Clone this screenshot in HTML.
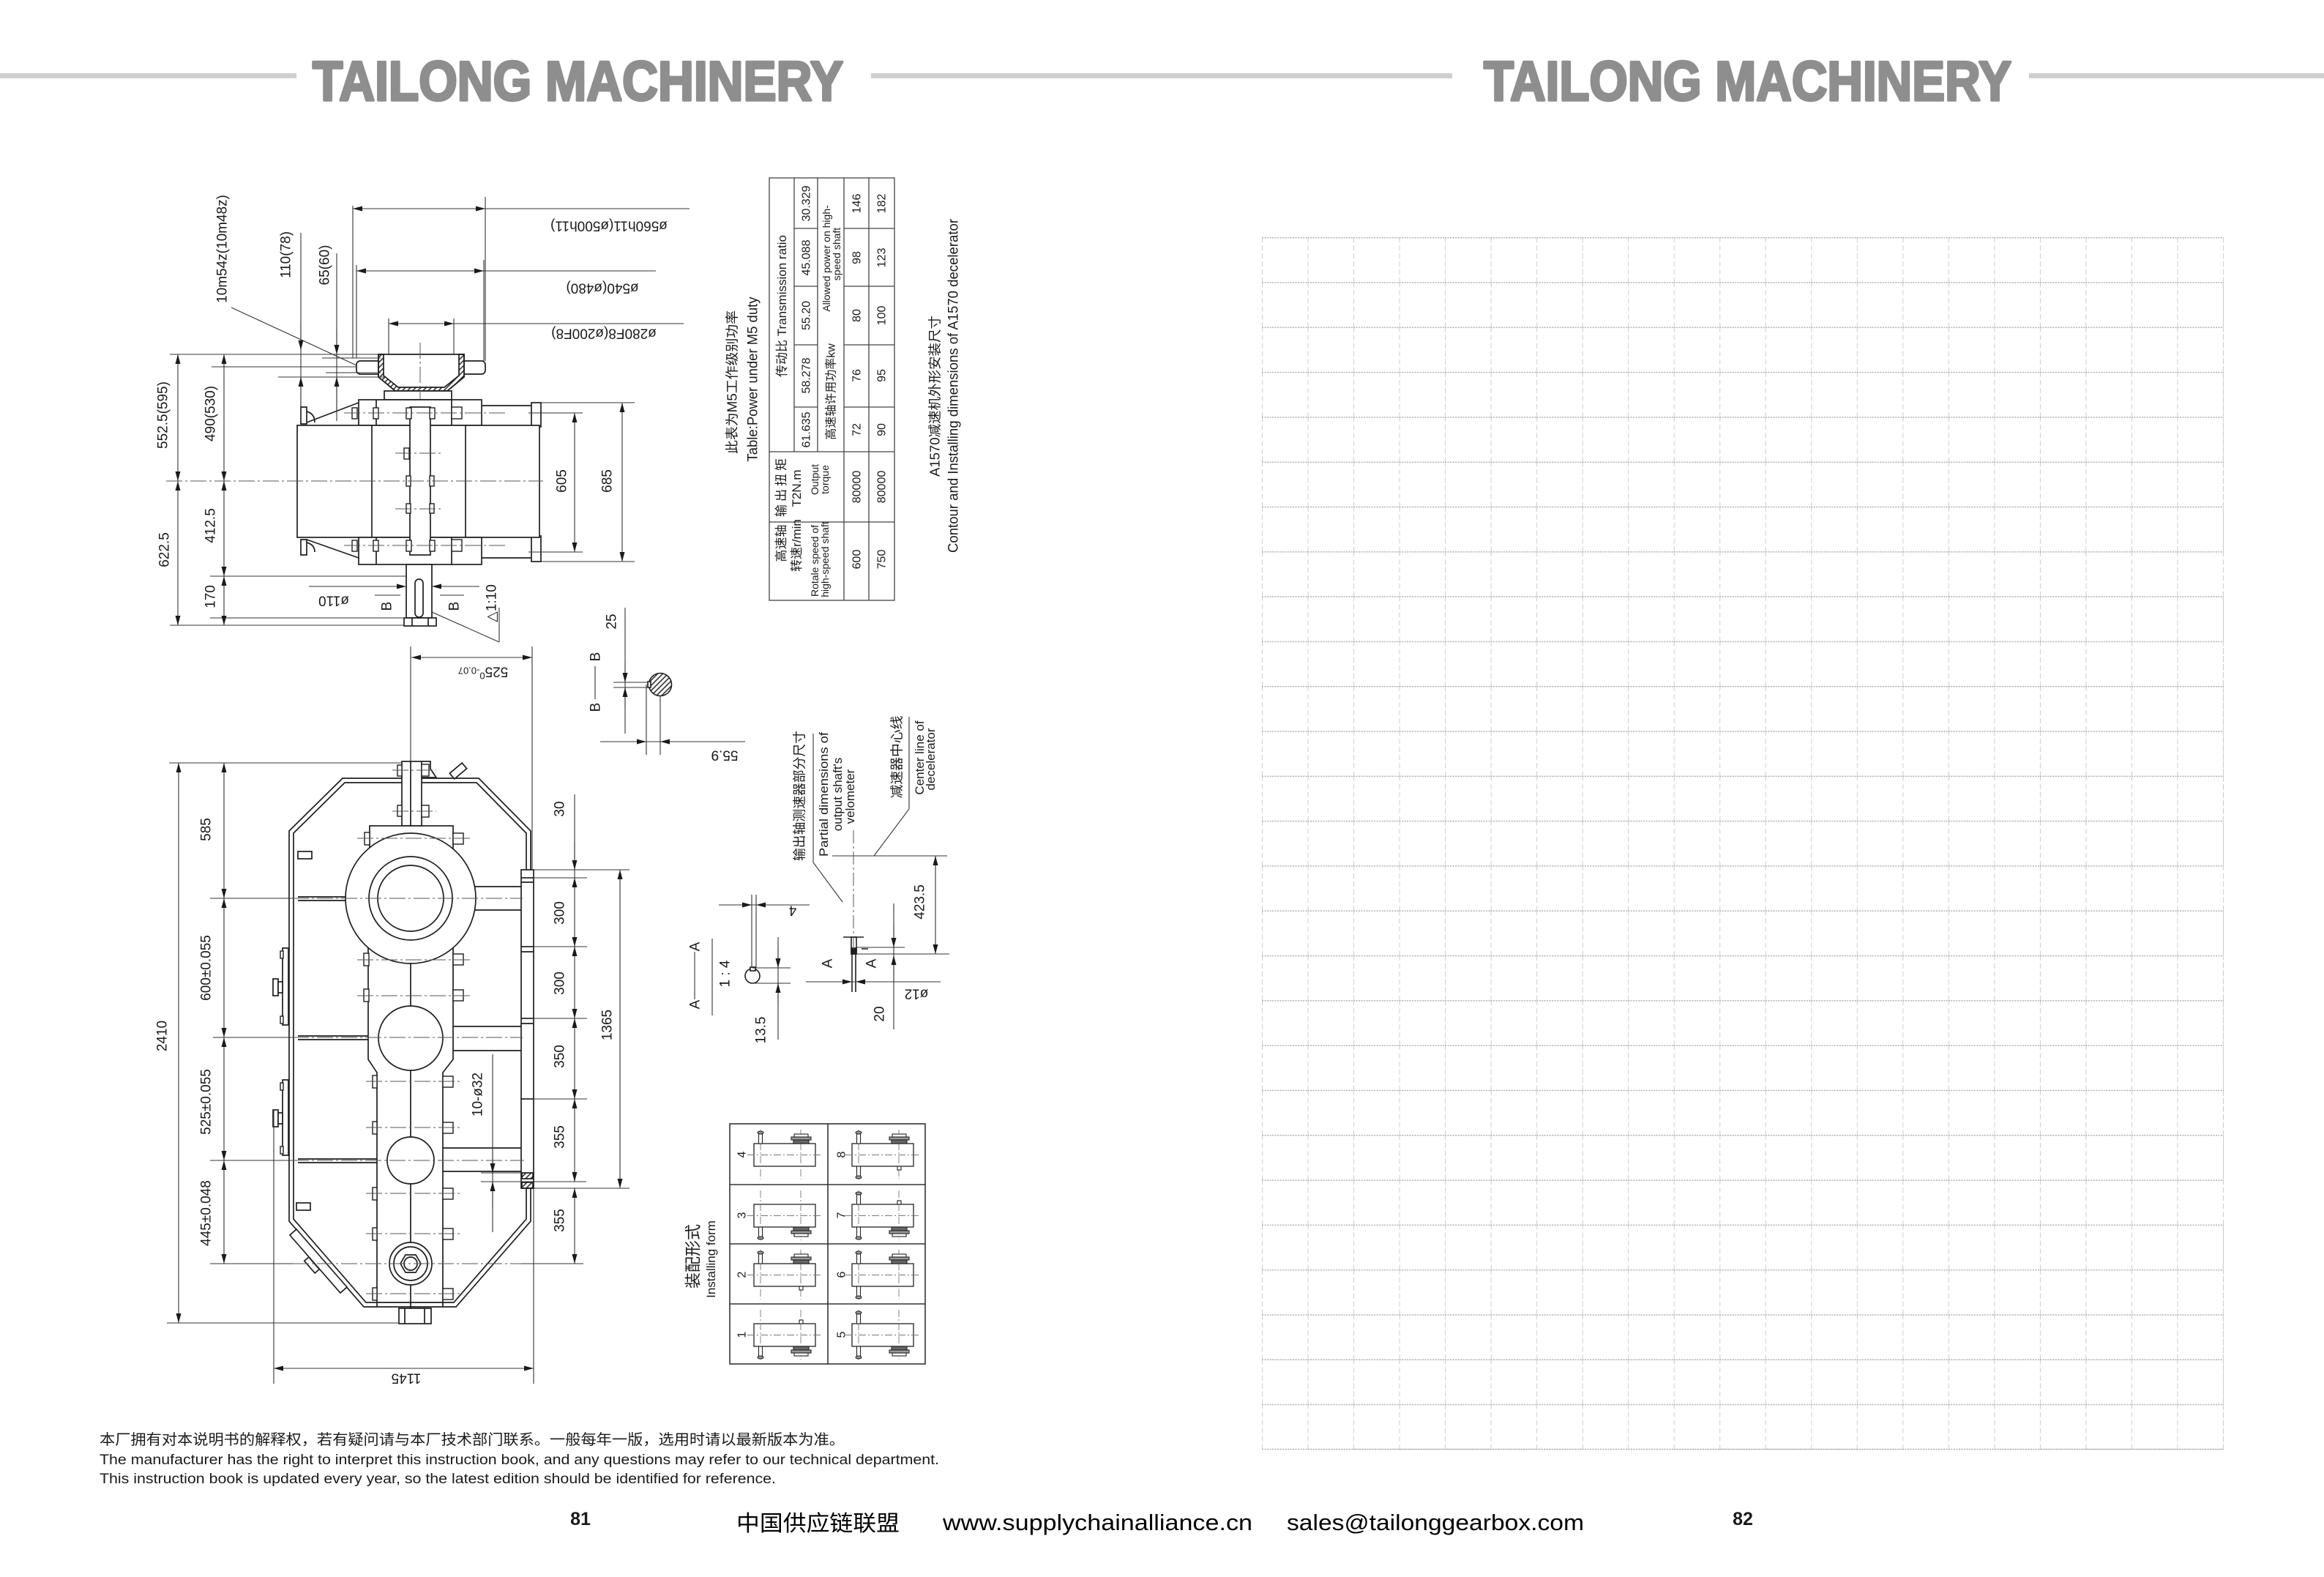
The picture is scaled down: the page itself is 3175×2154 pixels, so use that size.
<!DOCTYPE html>
<html><head><meta charset="utf-8">
<style>
html,body{margin:0;padding:0;background:#fff;width:3175px;height:2154px;overflow:hidden;}
svg{display:block;}
text{font-family:"Liberation Sans","DejaVu Sans","Noto Sans CJK SC",sans-serif;fill:#1a1a1a;}
</style></head><body>
<svg width="3175" height="2154" viewBox="0 0 3175 2154" xmlns="http://www.w3.org/2000/svg">
<defs>
<marker id="a" viewBox="0 0 13 7" refX="13" refY="3.5" markerWidth="13" markerHeight="7" markerUnits="userSpaceOnUse" orient="auto-start-reverse"><path d="M0,0 L13,3.5 L0,7 z" fill="#1a1a1a"/></marker>
<pattern id="h" width="5" height="5" patternUnits="userSpaceOnUse" patternTransform="rotate(45)"><line x1="1" y1="0" x2="1" y2="5" stroke="#222" stroke-width="1.5"/></pattern>
<pattern id="g" x="1724" y="324" width="62.524" height="61.3" patternUnits="userSpaceOnUse"><line x1="0.5" y1="0" x2="0.5" y2="61.3" stroke="#cdcdcd" stroke-width="1" stroke-dasharray="7 4"/><line x1="0" y1="0.75" x2="62.524" y2="0.75" stroke="#b0b0b0" stroke-width="1.5" stroke-dasharray="2 1.5"/></pattern>
<g id="fb"><rect x="33" y="27" width="84" height="31" fill="#fff" stroke="#222" stroke-width="1.3"/><path d="M24,42.5 H126 M42,8 V76 M97,8 V76" stroke="#777" stroke-width="0.9" stroke-dasharray="10 3 2 3" fill="none"/></g>
<g id="su" stroke="#222" stroke-width="1.1"><rect x="39.5" y="12" width="5" height="15" fill="#fff"/><ellipse cx="42" cy="12" rx="4" ry="2" fill="#999"/></g>
<g id="sd" stroke="#222" stroke-width="1.1"><rect x="39.5" y="58" width="5" height="15" fill="#fff"/><ellipse cx="42" cy="73" rx="4" ry="2" fill="#999"/></g>
<g id="fu" stroke="#222" stroke-width="1.1"><rect x="88" y="14" width="19" height="4" fill="#fff"/><rect x="84" y="18" width="27" height="4" fill="#999"/><rect x="87" y="22" width="21" height="5" fill="#666"/></g>
<g id="fd" stroke="#222" stroke-width="1.1"><rect x="87" y="58" width="21" height="5" fill="#666"/><rect x="84" y="63" width="27" height="4" fill="#999"/><rect x="88" y="67" width="19" height="4" fill="#fff"/></g>
<g id="tu"><rect x="95" y="22" width="5" height="5" fill="#fff" stroke="#222" stroke-width="1.1"/></g>
<g id="td"><rect x="95" y="58" width="5" height="5" fill="#fff" stroke="#222" stroke-width="1.1"/></g>
</defs>

<!-- HEADER -->
<rect x="0" y="100" width="405" height="7" fill="#cfcfcf"/>
<rect x="1190" y="100" width="794" height="7" fill="#cfcfcf"/>
<rect x="2772" y="100" width="403" height="7" fill="#cfcfcf"/>
<text x="427" y="137" font-size="76" font-weight="bold" textLength="725" lengthAdjust="spacingAndGlyphs" style="fill:#8e8e8e;stroke:#8e8e8e;stroke-width:3.5;stroke-linejoin:round">TAILONG MACHINERY</text>
<text x="2027" y="137" font-size="76" font-weight="bold" textLength="721" lengthAdjust="spacingAndGlyphs" style="fill:#8e8e8e;stroke:#8e8e8e;stroke-width:3.5;stroke-linejoin:round">TAILONG MACHINERY</text>

<!-- RIGHT PAGE GRID -->
<rect x="1724" y="324" width="1314" height="1656" fill="url(#g)"/>
<line x1="3037.5" y1="324" x2="3037.5" y2="1980" stroke="#cdcdcd" stroke-dasharray="7 4"/>
<line x1="1724" y1="1979.5" x2="3038" y2="1979.5" stroke="#b0b0b0" stroke-width="1.5" stroke-dasharray="2 1.5"/>

<!-- ================= TOP VIEW ================= -->
<g fill="none" stroke="#1e1e1e" stroke-width="1.7">
<rect x="487" y="493" width="176" height="18" rx="5" fill="#fff"/>
<path d="M517,484 L634,484 L634,515 L611,534 L540,534 L517,515 Z" fill="#fff"/>
<path d="M517,484 L524,484 L524,513 L544,529 L607,529 L627,513 L627,484 L634,484 L634,515 L611,534 L540,534 L517,515 Z" fill="url(#h)"/>
<rect x="525" y="534" width="92" height="12" fill="#fff"/>
<rect x="490" y="546" width="168" height="35" fill="#fff"/>
<line x1="514" y1="546" x2="514" y2="581"/><line x1="617" y1="546" x2="617" y2="581"/>
<path d="M658,554 H726 M658,762 H726"/>
<rect x="726" y="550" width="13" height="33" fill="#fff"/>
<rect x="726" y="732" width="13" height="35" fill="#fff"/>
<rect x="406" y="581" width="331" height="153" fill="#fff"/>
<line x1="508" y1="581" x2="508" y2="734"/><line x1="636" y1="581" x2="636" y2="734"/>
<rect x="490" y="734" width="168" height="37" fill="#fff"/>
<line x1="514" y1="734" x2="514" y2="771"/><line x1="617" y1="734" x2="617" y2="771"/>
<rect x="560" y="556" width="28" height="202" fill="#fff"/>
<path d="M411,556 H419 V579 H411 Z M419,562 Q430,565 430,577"/>
<path d="M419,577 L490,550"/>
<path d="M411,737 H419 V758 H411 Z M419,741 Q430,744 430,754"/>
<path d="M419,737 L490,762"/>
<rect x="555" y="771" width="35" height="73" fill="#fff"/>
<rect x="567" y="791" width="11" height="52" rx="5.5"/>
<rect x="552" y="844" width="44" height="11" fill="#fff"/>
<line x1="563" y1="844" x2="563" y2="855"/><line x1="585" y1="844" x2="585" y2="855"/>
</g>
<g fill="#fff" stroke="#1e1e1e" stroke-width="1.4">
<rect x="481" y="557" width="7" height="15"/><rect x="510" y="557" width="7" height="15"/><rect x="555" y="557" width="7" height="15"/><rect x="587" y="557" width="7" height="15"/><rect x="617" y="556" width="14" height="16"/>
<rect x="481" y="738" width="7" height="15"/><rect x="510" y="738" width="7" height="15"/><rect x="555" y="738" width="7" height="15"/><rect x="587" y="738" width="7" height="15"/><rect x="617" y="737" width="14" height="16"/>
<rect x="552" y="612" width="7" height="15"/>
<rect x="555" y="650" width="6" height="14"/><rect x="587" y="650" width="6" height="14"/>
<rect x="555" y="688" width="6" height="13"/><rect x="587" y="688" width="6" height="13"/>
</g>
<g fill="none" stroke="#555" stroke-width="1" stroke-dasharray="22 4 3 4">
<line x1="227" y1="657" x2="742" y2="657"/>
<line x1="574" y1="468" x2="574" y2="545"/>
<line x1="470" y1="564" x2="690" y2="564"/>
<line x1="470" y1="745" x2="690" y2="745"/>
<line x1="540" y1="619" x2="605" y2="619"/>
<line x1="540" y1="695" x2="605" y2="695"/>
</g>
<!-- top view dims -->
<g fill="none" stroke="#333" stroke-width="1.1">
<path d="M232,484 H517 M287,787 H555 M287,844 H555 M232,854 H552 M289,501 H487"/>
<path d="M440,489 H520 M445,509 H520 M380,515 H525"/>
<path d="M316,420 L487,499"/>
<path d="M482,281 V489 M663,269 V493 M487,362 V489 M661,355 V493 M531,435 V484 M620,435 V484"/>
<path d="M663,285 H942 M661,370 H896 M620,442 H934"/>
<path d="M722,564 H796 M722,754 H796 M739,550 H867 M739,767 H867"/>
<path d="M512,813 H547 M601,813 H634"/>
<path d="M590,836 L682,877 M682,830 V877"/>
<line x1="411" y1="318" x2="411" y2="575"/>
<line x1="460" y1="346" x2="460" y2="575"/>
<g marker-start="url(#a)" marker-end="url(#a)">
<line x1="243" y1="484" x2="243" y2="657"/>
<line x1="243" y1="657" x2="243" y2="854"/>
<line x1="306" y1="484" x2="306" y2="657"/>
<line x1="306" y1="657" x2="306" y2="787"/>
<line x1="306" y1="787" x2="306" y2="854"/>
<line x1="482" y1="285" x2="663" y2="285"/>
<line x1="487" y1="370" x2="661" y2="370"/>
<line x1="531" y1="442" x2="620" y2="442"/>
<line x1="785" y1="564" x2="785" y2="754"/>
<line x1="850" y1="550" x2="850" y2="767"/>
</g>
<g marker-end="url(#a)">
<line x1="411" y1="440" x2="411" y2="478"/>
<line x1="411" y1="560" x2="411" y2="515"/>
<line x1="460" y1="450" x2="460" y2="484"/>
<line x1="460" y1="560" x2="460" y2="515"/>
<line x1="422" y1="801" x2="555" y2="801"/>
<line x1="655" y1="801" x2="590" y2="801"/>
</g>
</g>
<g font-size="19" text-anchor="middle">
<text transform="translate(222,567) rotate(-90)" dy="6.7">552.5(595)</text>
<text transform="translate(224,751) rotate(-90)" dy="6.7">622.5</text>
<text transform="translate(287,565) rotate(-90)" dy="6.7">490(530)</text>
<text transform="translate(287,718) rotate(-90)" dy="6.7">412.5</text>
<text transform="translate(287,815) rotate(-90)" dy="6.7">170</text>
<text transform="translate(303,340) rotate(-90)" dy="6.7">10m54z(10m48z)</text>
<text transform="translate(390,348) rotate(-90)" dy="6.7">110(78)</text>
<text transform="translate(443,362) rotate(-90)" dy="6.7">65(60)</text>
<text transform="translate(832,309) rotate(180)" dy="6.7">ø560h11(ø500h11)</text>
<text transform="translate(823,394) rotate(180)" dy="6.7">ø540(ø480)</text>
<text transform="translate(825,456) rotate(180)" dy="6.7">ø280F8(ø200F8)</text>
<text transform="translate(767,657) rotate(-90)" dy="6.7">605</text>
<text transform="translate(829,657) rotate(-90)" dy="6.7">685</text>
<text transform="translate(456,821) rotate(180)" dy="6.7">ø110</text>
<text transform="translate(528,828) rotate(-90)" dy="6.7">B</text>
<text transform="translate(620,828) rotate(-90)" dy="6.7">B</text>
<text transform="translate(671,824) rotate(-90)" dy="6.7">△1:10</text>
<text transform="translate(835,849) rotate(-90)" dy="6.7">25</text>
</g>

<!-- ================= TABLE ================= -->
<g fill="none" stroke="#444" stroke-width="1.3">
<rect x="1051" y="243" width="171" height="577"/>
<path d="M1153,243 V820 M1187,243 V820 M1085,243 V617 M1117,243 V617"/>
<path d="M1051,617 H1222 M1051,713 H1222"/>
<path d="M1085,312 H1117 M1085,391 H1117 M1085,471 H1117 M1085,556 H1117"/>
<path d="M1153,312 H1222 M1153,391 H1222 M1153,471 H1222 M1153,556 H1222"/>
</g>
<g font-size="16" text-anchor="middle">
<text transform="translate(1068,418) rotate(-90)" dy="6" font-size="17">传动比 Transmission ratio</text>
<text transform="translate(1101,278) rotate(-90)" dy="5.6">30.329</text>
<text transform="translate(1101,352) rotate(-90)" dy="5.6">45.088</text>
<text transform="translate(1101,431) rotate(-90)" dy="5.6">55.20</text>
<text transform="translate(1101,513) rotate(-90)" dy="5.6">58.278</text>
<text transform="translate(1101,587) rotate(-90)" dy="5.6">61.635</text>
<text transform="translate(1129,353) rotate(-90)" dy="5" font-size="14">Allowed power on high-</text>
<text transform="translate(1143,347) rotate(-90)" dy="5" font-size="14">speed shaft</text>
<text transform="translate(1135,535) rotate(-90)" dy="5.6">高速轴许用功率kw</text>
<text transform="translate(1170,278) rotate(-90)" dy="5.6">146</text>
<text transform="translate(1170,352) rotate(-90)" dy="5.6">98</text>
<text transform="translate(1170,431) rotate(-90)" dy="5.6">80</text>
<text transform="translate(1170,513) rotate(-90)" dy="5.6">76</text>
<text transform="translate(1170,587) rotate(-90)" dy="5.6">72</text>
<text transform="translate(1204,278) rotate(-90)" dy="5.6">182</text>
<text transform="translate(1204,352) rotate(-90)" dy="5.6">123</text>
<text transform="translate(1204,431) rotate(-90)" dy="5.6">100</text>
<text transform="translate(1204,513) rotate(-90)" dy="5.6">95</text>
<text transform="translate(1204,587) rotate(-90)" dy="5.6">90</text>
<text transform="translate(1067,664) rotate(-90)" dy="6" font-size="17" letter-spacing="4">输出扭矩</text>
<text transform="translate(1088,667) rotate(-90)" dy="6" font-size="17">T2N.m</text>
<text transform="translate(1113,655) rotate(-90)" dy="5" font-size="14">Output</text>
<text transform="translate(1127,655) rotate(-90)" dy="5" font-size="14">torque</text>
<text transform="translate(1170,665) rotate(-90)" dy="5.6">80000</text>
<text transform="translate(1204,665) rotate(-90)" dy="5.6">80000</text>
<text transform="translate(1067,742) rotate(-90)" dy="6" font-size="17">高速轴</text>
<text transform="translate(1088,745) rotate(-90)" dy="6" font-size="17">转速r/min</text>
<text transform="translate(1113,766) rotate(-90)" dy="5" font-size="14">Rotale speed of</text>
<text transform="translate(1127,764) rotate(-90)" dy="5" font-size="14">high-speed shaft</text>
<text transform="translate(1170,764) rotate(-90)" dy="5.6">600</text>
<text transform="translate(1204,764) rotate(-90)" dy="5.6">750</text>
<text transform="translate(1000,522) rotate(-90)" dy="6.3" font-size="18" textLength="196" lengthAdjust="spacingAndGlyphs">此表为M5工作级别功率</text>
<text transform="translate(1028,518) rotate(-90)" dy="6.6" font-size="19" textLength="225" lengthAdjust="spacingAndGlyphs">Table:Power under M5 duty</text>
<text transform="translate(1277,541) rotate(-90)" dy="6.3" font-size="18" textLength="220" lengthAdjust="spacingAndGlyphs">A1570减速机外形安装尺寸</text>
<text transform="translate(1302,527) rotate(-90)" dy="6.6" font-size="19" textLength="456" lengthAdjust="spacingAndGlyphs">Contour and Installing dimensions of A1570 decelerator</text>
</g>

<!-- ================= BOTTOM VIEW ================= -->
<g fill="none" stroke="#1e1e1e" stroke-width="1.7">
<path d="M725,1188 L725,1135 L654,1063 L468,1063 L395,1135 L395,1668 L497,1785 L623,1785 L725,1668 L725,1623"/>
<path d="M719,1188 L719,1138 L651,1069 L471,1069 L401,1138 L401,1665 L500,1779 L620,1779 L719,1665 L719,1623"/>
<rect x="712" y="1188" width="17" height="435" fill="#fff"/>
<path d="M712,1199 H729 M712,1205 H729 M712,1293 H729 M712,1300 H729 M712,1391 H729 M712,1398 H729 M712,1501 H729"/>
<rect x="713" y="1602" width="15" height="8" fill="url(#h)"/>
<rect x="713" y="1615" width="15" height="8" fill="url(#h)"/>
<rect x="549" y="1040" width="27" height="88" fill="#fff"/>
<path d="M576,1040 L588,1040 L588,1050 L596,1062 L576,1062"/>
<rect x="505" y="1128" width="114" height="60" fill="#fff"/>
<path d="M503,1260 L503,1447 L515,1465 L515,1785 M619,1260 L619,1447 L605,1465 L605,1785"/>
<path d="M646,1211 H712 M646,1243 H712 M619,1402 H712 M619,1435 H712 M605,1568 H712 M605,1600 H712"/>
<path d="M407,1225 H473 M407,1230 H473 M407,1415 H503 M407,1420 H503 M407,1583 H515 M407,1588 H515"/>
<circle cx="561" cy="1227" r="89" fill="#fff"/>
<circle cx="561" cy="1227" r="57"/>
<circle cx="561" cy="1227" r="45"/>
<circle cx="561" cy="1418" r="44" fill="#fff"/>
<circle cx="561" cy="1585" r="32" fill="#fff"/>
<circle cx="561" cy="1726" r="29" fill="#fff"/>
<circle cx="561" cy="1726" r="23"/>
<path d="M575,1726 L568,1738 L554,1738 L547,1726 L554,1714 L568,1714 Z"/>
<circle cx="561" cy="1726" r="9"/>
<path d="M561,1040 V1128 M561,1316 V1374 M561,1462 V1553 M561,1617 V1697 M561,1755 V1808"/>
<rect x="545" y="1787" width="44" height="21" fill="#fff"/>
<path d="M553,1787 V1808 M580,1787 V1808"/>
<rect x="386" y="1295" width="8" height="105" fill="#fff"/>
<rect x="373" y="1337" width="7" height="23" fill="#fff"/><rect x="380" y="1341" width="6" height="15" fill="#fff"/>
<rect x="386" y="1475" width="8" height="103" fill="#fff"/>
<rect x="373" y="1516" width="7" height="23" fill="#fff"/><rect x="380" y="1520" width="6" height="15" fill="#fff"/>
<path d="M405,1679 L474,1758 L465,1766 L396,1687 Z" fill="#fff"/>
<rect x="-4" y="-11" width="8" height="22" transform="translate(426,1728) rotate(-41)" fill="#fff"/>
<rect x="407" y="1163" width="19" height="10"/>
<rect x="405" y="1643" width="19" height="10"/>
<rect x="-11" y="-5" width="22" height="10" transform="translate(626,1053) rotate(-40)" fill="#fff"/>
</g>
<g fill="#fff" stroke="#1e1e1e" stroke-width="1.4">
<rect x="543" y="1045" width="6" height="15"/><rect x="576" y="1044" width="10" height="16"/>
<rect x="543" y="1100" width="6" height="15"/><rect x="576" y="1100" width="10" height="16"/>
<rect x="498" y="1137" width="7" height="17"/><rect x="619" y="1138" width="14" height="15"/>
<rect x="497" y="1302" width="7" height="17"/><rect x="619" y="1303" width="14" height="15"/>
<rect x="497" y="1351" width="7" height="17"/><rect x="619" y="1352" width="14" height="15"/>
<rect x="509" y="1469" width="6" height="17"/><rect x="605" y="1470" width="14" height="15"/>
<rect x="509" y="1532" width="6" height="17"/><rect x="605" y="1533" width="14" height="15"/>
<rect x="509" y="1622" width="6" height="17"/><rect x="605" y="1623" width="14" height="15"/>
<rect x="509" y="1677" width="6" height="17"/><rect x="605" y="1678" width="14" height="15"/>
<rect x="509" y="1759" width="6" height="17"/><rect x="605" y="1760" width="14" height="15"/>
<rect x="383" y="1299" width="4" height="10"/><rect x="383" y="1388" width="4" height="10"/>
<rect x="383" y="1479" width="4" height="10"/><rect x="383" y="1566" width="4" height="10"/>
</g>
<g fill="none" stroke="#555" stroke-width="1" stroke-dasharray="22 4 3 4">
<line x1="400" y1="1227" x2="714" y2="1227"/>
<line x1="400" y1="1417" x2="714" y2="1417"/>
<line x1="400" y1="1585" x2="716" y2="1585"/>
<line x1="400" y1="1726" x2="712" y2="1726"/>
<line x1="536" y1="1052" x2="596" y2="1052"/>
<line x1="536" y1="1108" x2="596" y2="1108"/>
<line x1="488" y1="1145" x2="642" y2="1145"/>
<line x1="488" y1="1311" x2="642" y2="1311"/>
<line x1="488" y1="1360" x2="642" y2="1360"/>
<line x1="500" y1="1477" x2="630" y2="1477"/>
<line x1="500" y1="1540" x2="630" y2="1540"/>
<line x1="500" y1="1630" x2="630" y2="1630"/>
<line x1="500" y1="1685" x2="630" y2="1685"/>
<line x1="500" y1="1767" x2="630" y2="1767"/>
</g>
<!-- bottom view dims -->
<g fill="none" stroke="#333" stroke-width="1.1">
<path d="M231,1042 H549 M228,1807 H545"/>
<path d="M287,1227 H400 M291,1417 H400 M287,1585 H400 M287,1726 H400 M712,1726 H797"/>
<path d="M561,883 V1040 M727,883 V1188 M729,1623 V1890 M374,1517 V1890"/>
<path d="M729,1188 H860 M714,1199 H802 M714,1293 H802 M714,1391 H802 M714,1501 H802 M657,1602 H712 M657,1614 H801 M729,1623 H860"/>
<line x1="785" y1="1085" x2="785" y2="1199"/>
<line x1="673" y1="1440" x2="673" y2="1683"/>
<g marker-start="url(#a)" marker-end="url(#a)">
<line x1="244" y1="1042" x2="244" y2="1807"/>
<line x1="306" y1="1042" x2="306" y2="1227"/>
<line x1="306" y1="1227" x2="306" y2="1417"/>
<line x1="306" y1="1417" x2="306" y2="1585"/>
<line x1="306" y1="1585" x2="306" y2="1726"/>
<line x1="785" y1="1199" x2="785" y2="1293"/>
<line x1="785" y1="1293" x2="785" y2="1391"/>
<line x1="785" y1="1391" x2="785" y2="1501"/>
<line x1="785" y1="1501" x2="785" y2="1614"/>
<line x1="785" y1="1623" x2="785" y2="1726"/>
<line x1="847" y1="1188" x2="847" y2="1623"/>
<line x1="374" y1="1869" x2="729" y2="1869"/>
<line x1="562" y1="898" x2="727" y2="898"/>
</g>
<g marker-end="url(#a)">
<line x1="785" y1="1150" x2="785" y2="1188"/>
<line x1="673" y1="1570" x2="673" y2="1602"/>
<line x1="673" y1="1650" x2="673" y2="1614"/>
</g>
</g>
<g font-size="19" text-anchor="middle">
<text transform="translate(221,1415) rotate(-90)" dy="6.7">2410</text>
<text transform="translate(281,1133) rotate(-90)" dy="6.7">585</text>
<text transform="translate(281,1322) rotate(-90)" dy="6.7">600±0.055</text>
<text transform="translate(281,1505) rotate(-90)" dy="6.7">525±0.055</text>
<text transform="translate(281,1657) rotate(-90)" dy="6.7">445±0.048</text>
<text transform="translate(764,1105) rotate(-90)" dy="6.7">30</text>
<text transform="translate(764,1247) rotate(-90)" dy="6.7">300</text>
<text transform="translate(764,1343) rotate(-90)" dy="6.7">300</text>
<text transform="translate(764,1443) rotate(-90)" dy="6.7">350</text>
<text transform="translate(764,1553) rotate(-90)" dy="6.7">355</text>
<text transform="translate(764,1667) rotate(-90)" dy="6.7">355</text>
<text transform="translate(829,1400) rotate(-90)" dy="6.7">1365</text>
<text transform="translate(652,1495) rotate(-90)" dy="6.7">10-ø32</text>
<text transform="translate(555,1883) rotate(180)" dy="6.7">1145</text>
<text transform="translate(660,918) rotate(180)" dy="6.7">525<tspan font-size="13" dy="-7">0</tspan><tspan font-size="13" dy="7">-0.07</tspan></text>
</g>

<!-- ================= SECTIONS B-B / A-A / VELOMETER ================= -->
<g fill="none" stroke="#1e1e1e" stroke-width="1.6">
<circle cx="902" cy="935" r="15.5" fill="url(#h)"/>
<rect x="885" y="931" width="4" height="8" fill="#fff"/>
<circle cx="1028" cy="1333" r="10" fill="#fff"/>
<rect x="1025" y="1321" width="7" height="5" fill="#fff"/>
<rect x="1163" y="1280" width="7" height="23" fill="#fff"/>
<rect x="1163" y="1295" width="7" height="8" fill="#1e1e1e"/>
<path d="M1152,1280 H1180 M1164,1303 V1355 M1169,1303 V1355 M1177,1296 H1186"/>
</g>
<g fill="none" stroke="#333" stroke-width="1.1">
<path d="M813,910 V955 M949,1300 V1365"/>
<line x1="854" y1="830" x2="854" y2="1002"/>
<path d="M838,932 H886 M838,939 H886 M883,935 V1031 M902,950 V1031 M820,1013 H1018"/>
<path d="M973,1282 V1387 M1027,1222 V1322 M1033,1222 V1322 M982,1236 H1106 M1063,1280 V1420 M1028,1322 H1080 M1028,1343 H1080"/>
<path d="M1111,1002 V1178 L1151,1232 M1242,979 V1105 L1194,1169"/>
<path d="M1137,1169 H1294 M1170,1303 H1297 M1221,1234 V1406 M1170,1294 H1236 M1101,1341 H1285"/>
<g marker-start="url(#a)" marker-end="url(#a)"><line x1="1278" y1="1169" x2="1278" y2="1303"/></g>
<g marker-end="url(#a)">
<line x1="854" y1="905" x2="854" y2="932"/>
<line x1="854" y1="966" x2="854" y2="939"/>
<line x1="850" y1="1013" x2="883" y2="1013"/>
<line x1="935" y1="1013" x2="902" y2="1013"/>
<line x1="995" y1="1236" x2="1027" y2="1236"/>
<line x1="1065" y1="1236" x2="1033" y2="1236"/>
<line x1="1063" y1="1295" x2="1063" y2="1322"/>
<line x1="1063" y1="1372" x2="1063" y2="1343"/>
<line x1="1221" y1="1260" x2="1221" y2="1294"/>
<line x1="1221" y1="1340" x2="1221" y2="1305"/>
<line x1="1130" y1="1341" x2="1164" y2="1341"/>
<line x1="1205" y1="1341" x2="1169" y2="1341"/>
</g>
</g>
<g fill="none" stroke="#555" stroke-width="1" stroke-dasharray="18 4 3 4">
<line x1="1166" y1="1134" x2="1166" y2="1299"/>
</g>
<g font-size="19" text-anchor="middle">
<text transform="translate(813,897) rotate(-90)" dy="6.7">B</text>
<text transform="translate(813,966) rotate(-90)" dy="6.7">B</text>
<text transform="translate(990,1032) rotate(180)" dy="6.7">55.9</text>
<text transform="translate(1256,1232) rotate(-90)" dy="6.7">423.5</text>
<text transform="translate(1201,1385) rotate(-90)" dy="6.7">20</text>
<text transform="translate(1130,1316) rotate(-90)" dy="6.7">A</text>
<text transform="translate(1190,1316) rotate(-90)" dy="6.7">A</text>
<text transform="translate(1252,1358) rotate(180)" dy="6.7">ø12</text>
<text transform="translate(949,1293) rotate(-90)" dy="6.7">A</text>
<text transform="translate(949,1372) rotate(-90)" dy="6.7">A</text>
<text transform="translate(990,1330) rotate(-90)" dy="6.7">1 : 4</text>
<text transform="translate(1083,1244) rotate(180)" dy="6.7">4</text>
<text transform="translate(1039,1407) rotate(-90)" dy="6.7">13.5</text>
<text transform="translate(1092,1087) rotate(-90)" dy="6.3" font-size="18" textLength="178" lengthAdjust="spacingAndGlyphs">输出轴测速器部分尺寸</text>
<text transform="translate(1125,1085) rotate(-90)" dy="6" font-size="17" textLength="170" lengthAdjust="spacingAndGlyphs">Partial dimensions of</text>
<text transform="translate(1144,1085) rotate(-90)" dy="6" font-size="17">output shaft's</text>
<text transform="translate(1161,1088) rotate(-90)" dy="6" font-size="17">velometer</text>
<text transform="translate(1225,1034) rotate(-90)" dy="6.3" font-size="18" textLength="113" lengthAdjust="spacingAndGlyphs">减速器中心线</text>
<text transform="translate(1256,1035) rotate(-90)" dy="6" font-size="17">Center line of</text>
<text transform="translate(1271,1037) rotate(-90)" dy="6" font-size="17">decelerator</text>
</g>

<!-- ================= INSTALLING FORMS ================= -->
<g fill="none" stroke="#333" stroke-width="1.6">
<rect x="997" y="1535" width="267" height="328"/>
<path d="M1131,1535 V1863 M997,1618 H1264 M997,1699 H1264 M997,1781 H1264"/>
</g>
<g font-size="16" text-anchor="middle">
<g transform="translate(997,1535)"><use href="#fb"/><use href="#su"/><use href="#fu"/><text transform="translate(16,42) rotate(-90)" dy="5.6">4</text></g>
<g transform="translate(997,1618)"><use href="#fb"/><use href="#sd"/><use href="#fd"/><text transform="translate(16,42) rotate(-90)" dy="5.6">3</text></g>
<g transform="translate(997,1699)"><use href="#fb"/><use href="#su"/><use href="#fu"/><use href="#td"/><text transform="translate(16,42) rotate(-90)" dy="5.6">2</text></g>
<g transform="translate(997,1781)"><use href="#fb"/><use href="#sd"/><use href="#fd"/><use href="#tu"/><text transform="translate(16,42) rotate(-90)" dy="5.6">1</text></g>
<g transform="translate(1131,1535)"><use href="#fb"/><use href="#su"/><use href="#sd"/><use href="#fu"/><use href="#td"/><text transform="translate(18,42) rotate(-90)" dy="5.6">8</text></g>
<g transform="translate(1131,1618)"><use href="#fb"/><use href="#su"/><use href="#sd"/><use href="#fd"/><use href="#tu"/><text transform="translate(18,42) rotate(-90)" dy="5.6">7</text></g>
<g transform="translate(1131,1699)"><use href="#fb"/><use href="#su"/><use href="#sd"/><use href="#fu"/><text transform="translate(18,42) rotate(-90)" dy="5.6">6</text></g>
<g transform="translate(1131,1781)"><use href="#fb"/><use href="#su"/><use href="#sd"/><use href="#fd"/><text transform="translate(18,42) rotate(-90)" dy="5.6">5</text></g>
<text transform="translate(947,1716) rotate(-90)" dy="7.5" font-size="22">装配形式</text>
<text transform="translate(971,1720) rotate(-90)" dy="6" font-size="17">Installing form</text>
</g>

<!-- ================= FOOTER ================= -->
<text x="136" y="1973" font-size="20" textLength="1018" lengthAdjust="spacingAndGlyphs">本厂拥有对本说明书的解释权，若有疑问请与本厂技术部门联系。一般每年一版，选用时请以最新版本为准。</text>
<text x="136" y="2000" font-size="19" textLength="1147" lengthAdjust="spacingAndGlyphs">The manufacturer has the right to interpret this instruction book, and any questions may refer to our technical department.</text>
<text x="136" y="2026" font-size="19" textLength="924" lengthAdjust="spacingAndGlyphs">This instruction book is updated every year, so the latest edition should be identified for reference.</text>
<text x="793" y="2083" font-size="25" font-weight="bold" text-anchor="middle">81</text>
<text x="2381" y="2083" font-size="25" font-weight="bold" text-anchor="middle">82</text>
<text x="1006" y="2091" font-size="30" textLength="223" lengthAdjust="spacingAndGlyphs" style="fill:#000">中国供应链联盟</text>
<text x="1288" y="2090" font-size="31" textLength="423" lengthAdjust="spacingAndGlyphs" style="fill:#000">www.supplychainalliance.cn</text>
<text x="1758" y="2090" font-size="31" textLength="406" lengthAdjust="spacingAndGlyphs" style="fill:#000">sales@tailonggearbox.com</text>
</svg>
</body></html>
